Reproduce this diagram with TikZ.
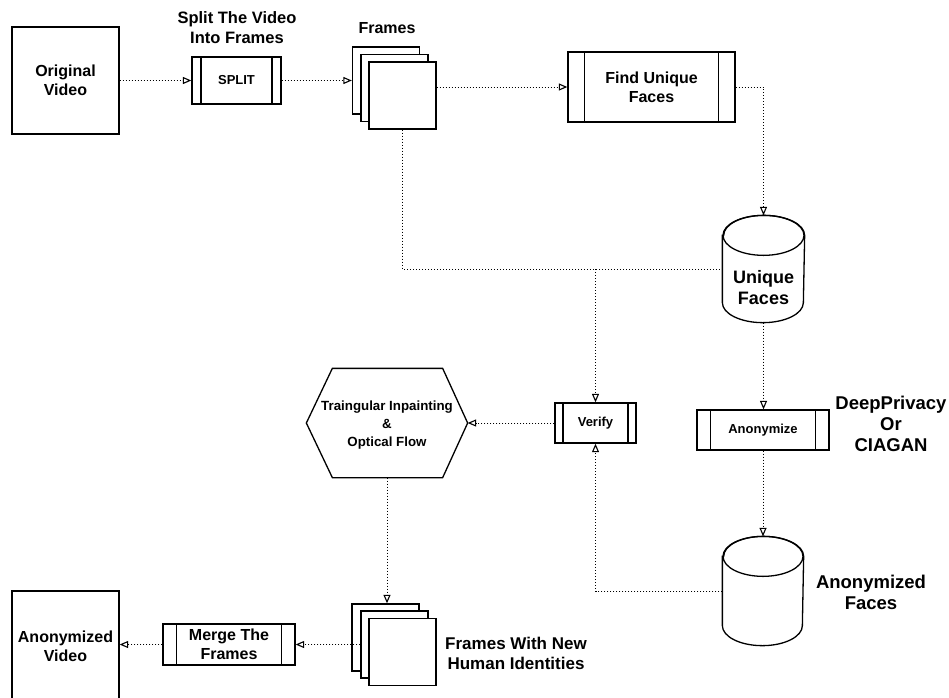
\documentclass[tikz,border=0pt]{standalone}
\usepackage{fontspec}
\setmainfont{Liberation Sans}
\usetikzlibrary{arrows.meta,calc}
\begin{document}
\begin{tikzpicture}[x=1pt,y=-1pt,
  line width=1.3pt,
  box/.style={draw, fill=white, rectangle, inner sep=0pt, align=center, font=\bfseries\fontsize{16}{19}\selectfont},
  proc/.style={box, path picture={\draw[line width=1.3pt]
     ($(path picture bounding box.north west)!0.1!(path picture bounding box.north east)$) --
     ($(path picture bounding box.south west)!0.1!(path picture bounding box.south east)$)
     ($(path picture bounding box.north east)!0.1!(path picture bounding box.north west)$) --
     ($(path picture bounding box.south east)!0.1!(path picture bounding box.south west)$);}},
  card/.style={draw, fill=white, minimum width=67pt, minimum height=67pt, inner sep=0pt},
  ghost/.style={draw=none, rectangle, inner sep=0pt},
  dotline/.style={line width=1pt, dash pattern=on 1pt off 2pt},
  flow/.style={dotline, -{Triangle[open, length=8.5pt, width=7pt, line width=1.1pt]}},
  lbl/.style={align=center, inner sep=0pt, font=\bfseries\fontsize{16}{19}\selectfont},
  shapeline/.style={line width=1.3pt, fill=white},
]
\useasboundingbox (0,0) rectangle (949,697);

% top row
\node[box, minimum width=107pt, minimum height=107pt] (ov) at (65.5,80.5) {Original\\Video};
\node[proc, minimum width=89pt, minimum height=47pt, font=\bfseries\fontsize{13}{15}\selectfont] (sp) at (236.5,80.5) {SPLIT};
\node[lbl, font=\bfseries\fontsize{16.5}{20}\selectfont] (spl) at (237,28) {Split The Video\\Into Frames};
\node[card] (f1) at (386,80.5) {};
\node[card] (f2) at (394.5,88) {};
\node[card] (f3) at (402.5,95.5) {};
\node[lbl] (frl) at (387,28) {Frames};
\node[proc, minimum width=167pt, minimum height=70pt] (fuf) at (651.5,87) {Find Unique\\Faces};

% unique faces cylinder
\node[ghost, minimum width=81pt, minimum height=106pt] (uf) at (763.5,269) {};
\draw[shapeline] ([yshift=-20pt]uf.north west) -- ([yshift=20pt]uf.south west)
   arc[start angle=180, end angle=360, x radius=40.5pt, y radius=20pt]
   -- ([yshift=-20pt]uf.north east)
   arc[start angle=0, end angle=180, x radius=40.5pt, y radius=20pt] -- cycle;
\draw[line width=1.3pt] ([yshift=-20pt]uf.north) ellipse[x radius=40.5pt, y radius=20pt];
\node[lbl, font=\bfseries\fontsize{18}{21}\selectfont] (uft) at (763.5,287.5) {Unique\\Faces};

% middle
\node[proc, minimum width=81pt, minimum height=40pt, font=\bfseries\fontsize{13}{15}\selectfont] (vf) at (595.5,423) {Verify};
\node[proc, minimum width=132pt, minimum height=40pt, font=\bfseries\fontsize{13}{15}\selectfont] (an) at (763,430) {Anonymize};
\node[lbl, font=\bfseries\fontsize{18.5}{21}\selectfont] (dp) at (891,424) {DeepPrivacy\\Or\\CIAGAN};

% hexagon
\node[ghost, minimum width=160pt, minimum height=108pt] (hx) at (387,423) {};
\draw[shapeline] (hx.west) -- ([xshift=26pt]hx.north west) -- ([xshift=-25pt]hx.north east)
   -- (hx.east) -- ([xshift=-25pt]hx.south east) -- ([xshift=26pt]hx.south west) -- cycle;
\node[lbl, font=\bfseries\fontsize{13.3}{18}\selectfont] (hxt) at (387,425) {Traingular Inpainting\\\&\\Optical Flow};

% anonymized faces cylinder
\node[ghost, minimum width=80pt, minimum height=108pt] (af) at (763,591) {};
\draw[shapeline] ([yshift=-20pt]af.north west) -- ([yshift=20pt]af.south west)
   arc[start angle=180, end angle=360, x radius=40pt, y radius=20pt]
   -- ([yshift=-20pt]af.north east)
   arc[start angle=0, end angle=180, x radius=40pt, y radius=20pt] -- cycle;
\draw[line width=1.3pt] ([yshift=-20pt]af.north) ellipse[x radius=40pt, y radius=20pt];
\node[lbl, font=\bfseries\fontsize{18.5}{21}\selectfont] (afl) at (871,592) {Anonymized\\Faces};

% bottom row
\node[card] (g1) at (385.5,637.5) {};
\node[card] (g2) at (394.5,644.5) {};
\node[card] (g3) at (402.5,652) {};
\node[lbl, font=\bfseries\fontsize{17}{20}\selectfont] (gl) at (516,653) {Frames With New\\Human Identities};
\node[proc, minimum width=132pt, minimum height=41pt] (mg) at (229,644.5) {Merge The\\Frames};
\node[box, minimum width=107pt, minimum height=112pt] (av) at (65.5,647) {};
\node[lbl] (avt) at (65.5,646) {Anonymized\\Video};

% connectors
\draw[flow] (ov.east) -- (sp.west);
\draw[flow] (sp.east) -- (f1.west);
\draw[flow] (f3.east |- fuf.west) -- (fuf.west);
\draw[flow] (fuf.east) -| (uf.north);
\coordinate (j1) at (vf.north |- uf.west);
\draw[dotline] (f3.south) |- (uf.west);
\draw[flow] (j1) -- (vf.north);
\draw[flow] (uf.south) -- (uf.south |- an.north);
\draw[flow] (an.south) -- (af.north);
\draw[flow] (af.west) -| (vf.south);
\draw[flow] (vf.west) -- (hx.east);
\draw[flow] (hx.south) -- (hx.south |- g1.north);
\draw[flow] (g2.west |- mg.east) -- (mg.east);
\draw[flow] (mg.west) -- (av.east |- mg.west);
\end{tikzpicture}
\end{document}
